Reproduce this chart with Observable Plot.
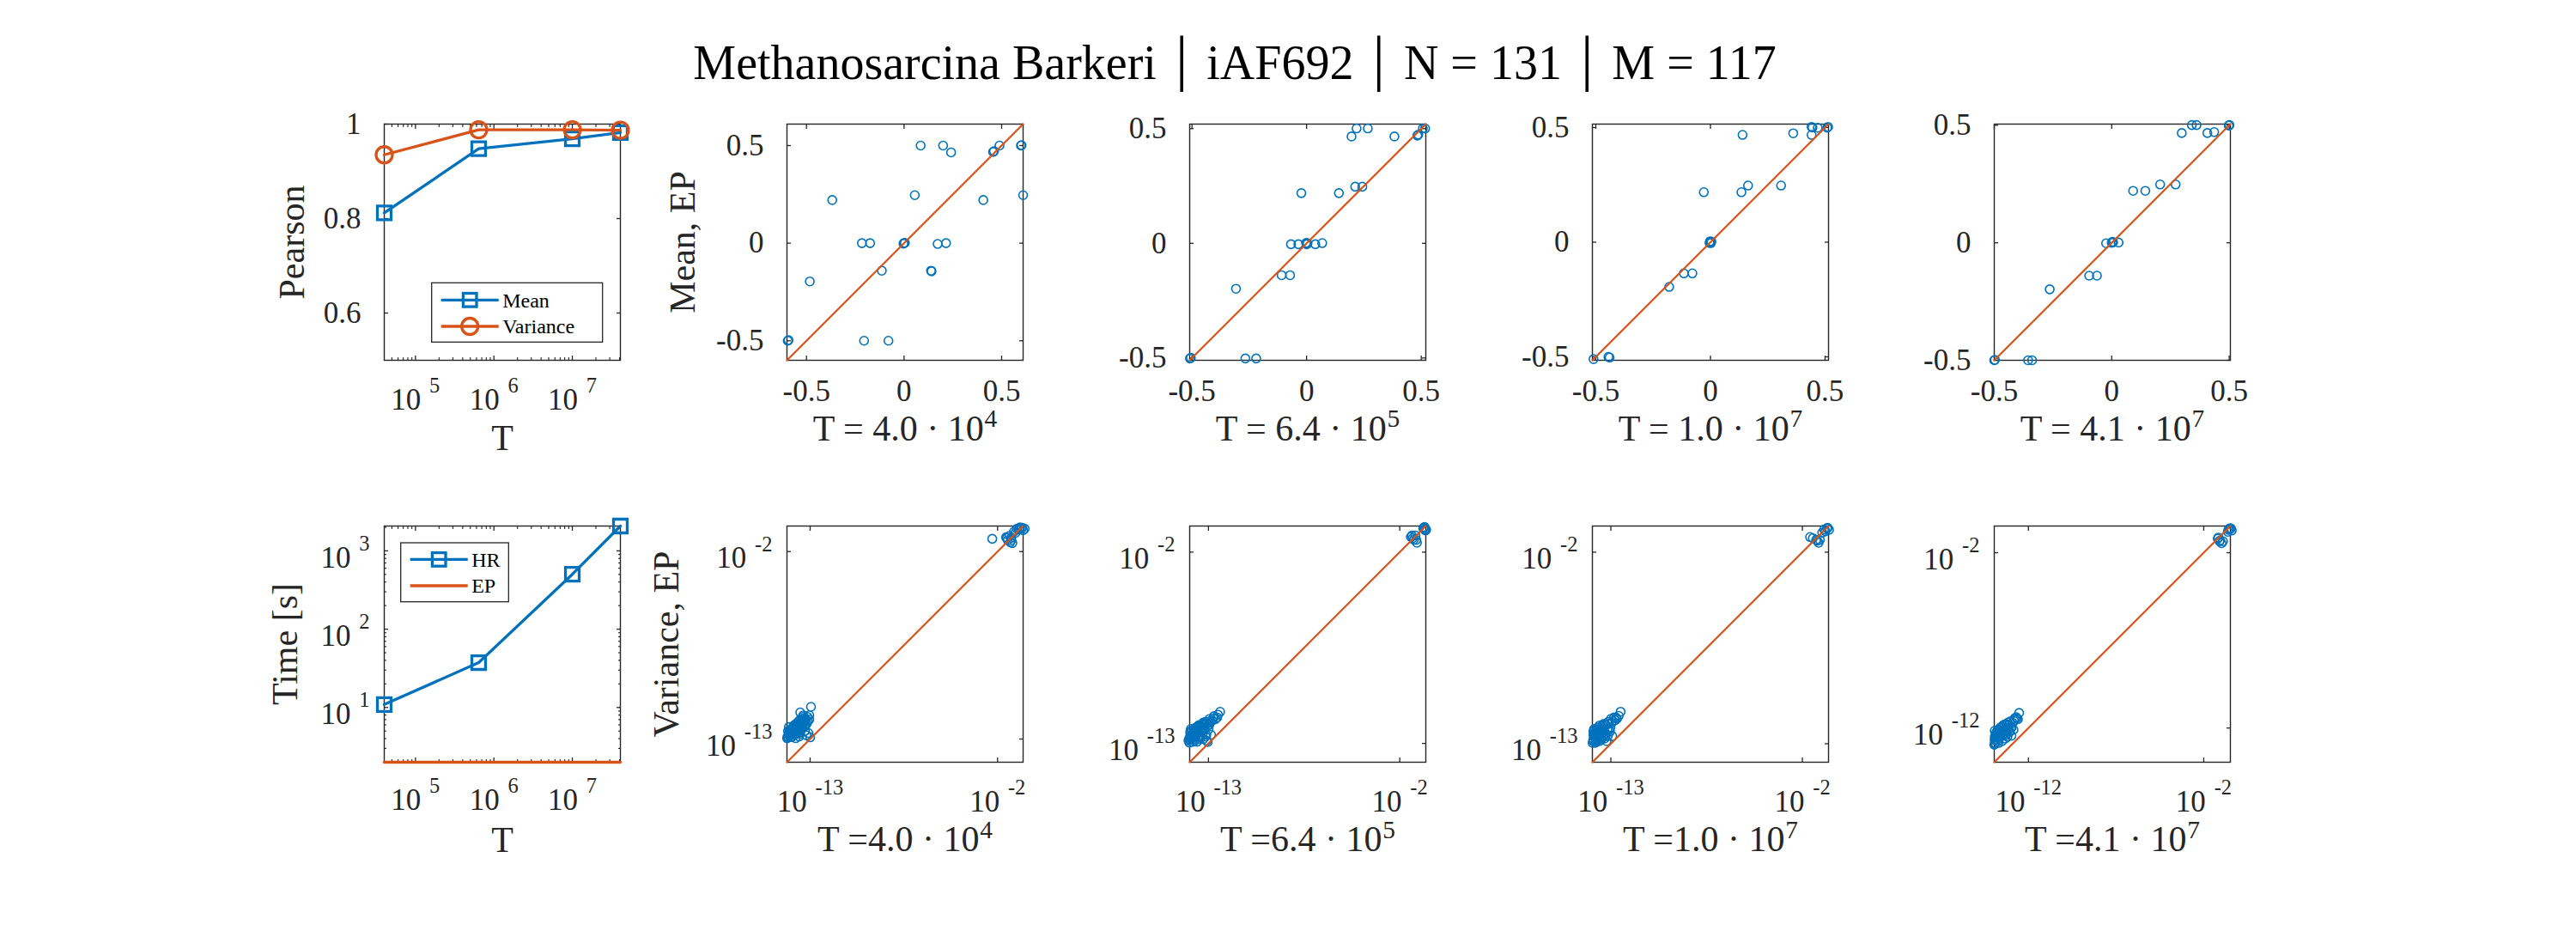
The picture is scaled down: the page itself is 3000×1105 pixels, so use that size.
<!DOCTYPE html>
<html>
<head>
<meta charset="utf-8">
<script src="https://cdn.jsdelivr.net/npm/d3@7"></script>
<script src="https://cdn.jsdelivr.net/npm/@observablehq/plot@0.6"></script>
<style>
  html, body { margin: 0; padding: 0; background: #fff; }
  #fig { position: relative; width: 3000px; height: 1105px; background: #fff; overflow: hidden; }
  #fig svg { position: absolute; overflow: visible; }
</style>
</head>
<body>
<div id="fig"></div>
<script>
// ---------- data ----------
const titleParts = ["Methanosarcina Barkeri", "iAF692", "N = 131", "M = 117"];

// sample counts T and their display labels
const T = [4.0e4, 6.4e5, 1.0e7, 4.1e7];
const Tlabels = ["4.0 · 10^4", "6.4 · 10^5", "1.0 · 10^7", "4.1 · 10^7"];

// Pearson correlation HR vs EP
const pearsonMean = [0.812, 0.948, 0.969, 0.982];
const pearsonVariance = [0.935, 0.988, 0.988, 0.987];

// run time in seconds
const timeHR = [10.9, 37.4, 502, 2075];
const timeEP = [2.0, 2.0, 2.0, 2.0];

// means: HR (x) against EP (y), one pair of arrays per T
const meanHR_1 = [-0.596, -0.592, -0.483, -0.368, -0.216, -0.174, -0.205, -0.080, -0.114, 0.000, 0.004, -0.003, 0.055, 0.085, 0.138, 0.141, 0.172, 0.215, 0.200, 0.241, 0.406, 0.456, 0.461, 0.489, 0.599, 0.602, 0.610];
const meanEP_1 = [-0.500, -0.497, -0.196, 0.221, 0.000, 0.000, -0.500, -0.500, -0.141, 0.000, 0.002, -0.002, 0.246, 0.500, -0.141, -0.144, -0.004, 0.000, 0.500, 0.465, 0.221, 0.467, 0.471, 0.500, 0.500, 0.502, 0.246];
const meanHR_2 = [-0.509, -0.505, -0.267, -0.220, -0.308, -0.109, -0.072, -0.068, -0.036, 0.000, 0.004, -0.002, 0.038, 0.068, -0.023, 0.141, 0.212, 0.243, 0.196, 0.218, 0.267, 0.383, 0.483, 0.487, 0.507, 0.517];
const meanEP_2 = [-0.502, -0.499, -0.502, -0.502, -0.198, -0.139, -0.139, -0.004, -0.004, -0.004, 0.000, 0.002, -0.004, 0.001, 0.219, 0.219, 0.247, 0.247, 0.466, 0.501, 0.501, 0.466, 0.470, 0.474, 0.501, 0.501];
const meanHR_3 = [-0.510, -0.445, -0.440, -0.180, -0.116, -0.079, 0.000, 0.004, -0.004, 0.002, -0.002, -0.029, 0.135, 0.164, 0.308, 0.140, 0.361, 0.441, 0.441, 0.445, 0.468, 0.513, 0.509];
const meanEP_3 = [-0.510, -0.500, -0.503, -0.195, -0.136, -0.136, 0.000, 0.003, -0.003, -0.004, 0.004, 0.218, 0.218, 0.247, 0.247, 0.468, 0.475, 0.468, 0.503, 0.500, 0.499, 0.503, 0.499];
const meanHR_4 = [-0.500, -0.497, -0.356, -0.339, -0.264, -0.096, -0.063, -0.024, 0.003, 0.000, 0.006, 0.029, 0.091, 0.143, 0.206, 0.272, 0.298, 0.341, 0.361, 0.407, 0.436, 0.501, 0.498];
const meanEP_4 = [-0.500, -0.498, -0.500, -0.500, -0.198, -0.140, -0.140, -0.002, 0.004, 0.000, 0.002, 0.001, 0.221, 0.221, 0.248, 0.248, 0.467, 0.501, 0.501, 0.467, 0.471, 0.501, 0.499];
const meanLims = [[-0.6, 0.61], [-0.51, 0.52], [-0.515, 0.515], [-0.5, 0.505]];
const meanTicks = [-0.5, 0, 0.5];

// variances (log10): HR (x) against EP (y), one pair of arrays per T
const logVarHR_1 = [-14.33, -14.25, -14.20, -14.10, -14.03, -13.95, -13.85, -13.80, -13.70, -13.67, -13.58, -13.50, -13.49, -13.40, -13.34, -13.30, -13.22, -13.16, -13.13, -13.05, -12.95, -14.30, -14.12, -13.85, -13.76, -14.00, -13.60, -13.30,
  -14.35, -14.28, -14.20, -14.15, -14.05, -13.98, -13.90, -13.82, -13.75, -13.70, -13.62, -13.55, -13.45, -13.42, -13.35, -13.25, -13.20, -13.10, -13.05, -13.00, -14.25, -13.90, -13.65,
  -14.22, -14.14, -14.06, -13.98, -13.92, -13.86, -13.78, -13.72, -13.64, -13.56, -13.52, -13.46, -13.38, -13.32, -13.26, -14.18, -14.08, -13.90, -13.60, -13.44,
  -2.31, -1.50, -1.31, -1.13, -1.04, -0.86, -0.68, -0.50, -0.41, -1.19, -1.40, -0.60, -0.75, -1.45, -1.20, -0.95, -0.55, -0.70, -1.25];
const logVarEP_1 = [-12.85, -12.62, -12.75, -12.50, -12.45, -12.20, -12.28, -12.60, -12.00, -12.11, -11.44, -11.95, -12.36, -11.61, -11.78, -12.53, -12.78, -11.70, -11.95, -11.60, -11.11, -12.53, -12.87, -12.95, -12.62, -12.30, -12.70, -12.20,
  -12.95, -12.90, -12.55, -12.65, -12.35, -12.55, -12.40, -12.10, -12.20, -12.45, -11.90, -12.05, -11.80, -12.15, -12.00, -11.85, -12.10, -12.65, -11.85, -12.90, -12.30, -12.75, -12.85,
  -12.82, -12.72, -12.60, -12.72, -12.50, -12.42, -12.35, -12.55, -12.25, -12.15, -12.45, -12.05, -11.95, -12.25, -11.90, -12.45, -12.88, -12.20, -12.60, -11.70,
  -1.25, -1.16, -1.08, -1.50, -0.83, -0.66, -0.58, -0.75, -0.66, -1.33, -1.33, -0.62, -0.70, -1.20, -1.20, -0.90, -0.60, -0.70, -1.45];
const logVarHR_2 = [-14.15, -14.05, -14.01, -13.92, -13.83, -13.74, -13.65, -13.57, -13.48, -13.30, -13.21, -13.12, -13.04, -12.95, -12.95, -12.77, -12.68, -12.50, -12.33, -14.01, -13.90, -13.70, -13.40, -13.55,
  -14.10, -14.05, -13.95, -13.85, -13.80, -13.70, -13.60, -13.50, -13.45, -13.35, -13.25, -13.15, -13.10, -13.00, -12.90, -12.85, -12.60, -12.45, -14.10, -13.65,
  -14.08, -14.00, -13.92, -13.86, -13.78, -13.72, -13.64, -13.58, -13.52, -13.44, -13.38, -13.30, -13.22, -13.16, -13.08, -13.00, -12.88, -12.72, -14.04, -13.80,
  -1.36, -1.19, -1.01, -1.10, -0.65, -0.48, -0.57, -1.25, -0.55, -1.30, -1.05, -0.60, -0.52];
const logVarEP_2 = [-12.83, -12.65, -12.59, -12.92, -12.34, -12.09, -12.17, -12.75, -12.01, -12.75, -11.84, -12.50, -12.92, -11.60, -11.93, -11.68, -11.43, -11.51, -11.18, -12.17, -12.45, -12.50, -12.30, -11.95,
  -12.70, -12.40, -12.25, -12.60, -12.85, -12.30, -12.00, -12.25, -12.60, -11.90, -12.20, -11.75, -12.85, -12.20, -11.80, -12.50, -11.60, -11.35, -12.95, -12.90,
  -12.80, -12.55, -12.45, -12.75, -12.20, -12.45, -12.05, -12.35, -12.60, -11.95, -12.30, -11.80, -12.10, -12.60, -11.85, -11.95, -11.70, -11.55, -12.30, -12.65,
  -1.13, -1.29, -1.46, -1.04, -0.63, -0.71, -0.55, -1.20, -0.68, -1.05, -1.30, -0.60, -0.75];
const logVarHR_3 = [-14.02, -13.95, -13.90, -13.85, -13.80, -13.70, -13.53, -13.35, -13.18, -13.00, -12.92, -12.82, -12.65, -12.44, -14.00, -13.60, -13.45, -13.10, -13.75,
  -14.05, -14.00, -13.95, -13.88, -13.80, -13.72, -13.65, -13.60, -13.50, -13.40, -13.30, -13.25, -13.15, -13.05, -12.95, -12.75, -12.55, -13.90, -13.45,
  -14.00, -13.94, -13.88, -13.82, -13.76, -13.70, -13.62, -13.56, -13.48, -13.42, -13.36, -13.28, -13.20, -13.12, -13.02, -12.88, -12.70, -13.98, -13.66, -13.30,
  -1.56, -1.21, -1.07, -0.86, -0.59, -0.47, -0.68, -1.15, -1.40, -1.00, -0.55, -0.75];
const logVarEP_3 = [-12.85, -12.60, -12.40, -12.90, -12.20, -12.06, -12.72, -11.90, -12.56, -11.57, -12.56, -11.49, -11.57, -11.16, -12.30, -12.40, -12.10, -12.20, -12.70,
  -12.95, -12.50, -12.15, -12.70, -12.50, -12.30, -11.95, -12.75, -12.20, -11.85, -12.40, -12.85, -11.75, -12.30, -11.80, -11.65, -11.40, -12.95, -12.60,
  -12.75, -12.55, -12.30, -12.80, -12.10, -12.60, -12.15, -12.45, -11.95, -12.30, -12.70, -11.95, -12.20, -11.85, -12.05, -11.70, -11.50, -12.20, -12.85, -12.55,
  -1.13, -1.29, -1.46, -0.88, -0.63, -0.72, -0.80, -1.35, -1.20, -1.30, -0.60, -0.70];
const logVarHR_4 = [-13.93, -13.90, -13.84, -13.75, -13.67, -13.49, -13.32, -13.23, -13.14, -13.05, -12.97, -12.79, -12.70, -12.53, -13.84, -13.60, -13.40, -13.00,
  -13.95, -13.92, -13.85, -13.80, -13.70, -13.62, -13.55, -13.45, -13.35, -13.28, -13.18, -13.10, -12.90, -12.85, -12.60, -13.90, -13.50,
  -13.90, -13.86, -13.80, -13.74, -13.68, -13.62, -13.56, -13.50, -13.42, -13.36, -13.30, -13.22, -13.14, -13.06, -12.95, -12.82, -12.66, -13.92, -13.70, -13.20,
  -1.16, -1.07, -0.98, -0.63, -0.55, -0.40, -0.50, -1.10, -1.20, -0.90, -0.60, -0.45];
const logVarEP_4 = [-12.68, -12.85, -12.44, -12.76, -12.11, -11.95, -12.60, -11.79, -12.03, -11.63, -12.44, -11.46, -11.38, -11.14, -12.28, -12.50, -12.20, -12.00,
  -12.95, -12.50, -12.65, -12.20, -12.45, -12.00, -12.30, -11.85, -12.30, -12.00, -11.70, -12.25, -11.70, -12.10, -11.50, -12.90, -12.75,
  -12.70, -12.35, -12.55, -12.10, -12.60, -12.25, -11.95, -12.45, -12.10, -11.80, -12.40, -12.00, -11.85, -12.20, -11.95, -11.60, -11.45, -12.15, -12.85, -12.50,
  -1.14, -1.30, -1.46, -0.81, -0.65, -0.73, -0.60, -1.35, -1.20, -1.35, -0.70, -0.62];
const logVarLims = [[-14.36, -0.5], [-14.08, -0.5], [-14.06, -0.5], [-13.95, -0.48]];
const logVarTicks = [[-13, -2], [-13, -2], [-13, -2], [-12, -2]];

// log-axis tick positions
const tMajor = [1e5, 1e6, 1e7];
const tMinor = [5e4, 6e4, 7e4, 8e4, 9e4, 2e5, 3e5, 4e5, 5e5, 6e5, 7e5, 8e5, 9e5, 2e6, 3e6, 4e6, 5e6, 6e6, 7e6, 8e6, 9e6, 2e7, 3e7, 4e7];
const timeMajor = [10, 100, 1000];
const timeMinor = [3, 4, 5, 6, 7, 8, 9, 20, 30, 40, 50, 60, 70, 80, 90, 200, 300, 400, 500, 600, 700, 800, 900, 2000];

// ---------- styling & layout ----------
const INK = "#262626", BLUE = "#0072BD", ORANGE = "#D95319";
const FONT = "'Liberation Serif', 'Times New Roman', serif";
const COLS = [447, 915.5, 1385, 1853.5, 2322];
const ROWS = [144, 612.3];
const SIDE = 275;
const M = {left: 150, right: 30, top: 30, bottom: 120};
const fig = document.getElementById("fig");

const linFmt = d => String(d);
const logFmt = d => `10^{${Math.round(Math.log10(d))}}`;
const blank = () => "";

// boxed axes with inward ticks on all four sides
function boxAxes({xTicks, yTicks, xMinor = [], yMinor = [], xFmt, yFmt, xPad, yPad, yDy = 0}) {
  const marks = [
    Plot.axisX({anchor: "bottom", ticks: xTicks, tickSize: 0, tickPadding: xPad, tickFormat: xFmt, label: null}),
    Plot.axisY({anchor: "left", ticks: yTicks, tickSize: 0, tickPadding: yPad, tickFormat: yFmt, label: null, dy: yDy})
  ];
  for (const anchor of ["bottom", "top"]) {
    marks.push(Plot.axisX({anchor, ticks: xTicks, tickSize: -5, tickFormat: blank, label: null, strokeWidth: 1.3}));
    if (xMinor.length) marks.push(Plot.axisX({anchor, ticks: xMinor, tickSize: -3, tickFormat: blank, label: null, strokeWidth: 1.1}));
  }
  for (const anchor of ["left", "right"]) {
    marks.push(Plot.axisY({anchor, ticks: yTicks, tickSize: -5, tickFormat: blank, label: null, strokeWidth: 1.3}));
    if (yMinor.length) marks.push(Plot.axisY({anchor, ticks: yMinor, tickSize: -3, tickFormat: blank, label: null, strokeWidth: 1.1}));
  }
  marks.push(Plot.frame({stroke: INK, strokeWidth: 1.4}));
  return marks;
}

const xLabel = (text, offset) =>
  Plot.text([text], {text: d => d, frameAnchor: "bottom", dy: offset, lineAnchor: "bottom", fontSize: 42, fill: INK});
const yLabel = (text, offset) =>
  Plot.text([text], {text: d => d, frameAnchor: "left", dx: -offset, rotate: -90, lineAnchor: "bottom", textAnchor: "middle", fontSize: 42, fill: INK});

function panel(col, row, {x, y, marks}) {
  const svg = Plot.plot({
    width: SIDE + M.left + M.right,
    height: SIDE + M.top + M.bottom,
    marginLeft: M.left, marginRight: M.right, marginTop: M.top, marginBottom: M.bottom,
    x, y,
    style: {fontFamily: FONT, fontSize: "35px", color: INK, background: "transparent", overflow: "visible"},
    marks
  });
  svg.style.left = `${COLS[col] - M.left}px`;
  svg.style.top = `${ROWS[row] - M.top}px`;
  fig.appendChild(svg);
  return svg;
}

// legend box drawn inside a panel, positioned relative to its frame
function addLegend(svg, box, rows) {
  const g = d3.select(svg).append("g")
    .attr("transform", `translate(${M.left + box.x},${M.top + box.y})`)
    .attr("font-family", FONT).attr("font-size", 24).attr("text-anchor", "start");
  g.append("rect").attr("width", box.w).attr("height", box.h)
    .attr("fill", "white").attr("stroke", INK).attr("stroke-width", 1.3);
  rows.forEach((r, i) => {
    const yy = box.rowY[i];
    g.append("line").attr("x1", 11).attr("x2", 78).attr("y1", yy).attr("y2", yy)
      .attr("stroke", r.color).attr("stroke-width", 3.3);
    if (r.symbol === "square") {
      g.append("rect").attr("x", 44.5 - 7.8).attr("y", yy - 7.8).attr("width", 15.6).attr("height", 15.6)
        .attr("fill", "none").attr("stroke", r.color).attr("stroke-width", 3.3);
    } else if (r.symbol === "circle") {
      g.append("circle").attr("cx", 44.5).attr("cy", yy).attr("r", 9.5)
        .attr("fill", "none").attr("stroke", r.color).attr("stroke-width", 3.3);
    }
    g.append("text").attr("x", 82.5).attr("y", yy).attr("dy", "0.35em")
      .attr("text-anchor", "start").attr("fill", "#000").text(r.label);
  });
}

// ---------- title ----------
const titleSvg = d3.create("svg").attr("width", 3000).attr("height", 130)
  .style("left", "0px").style("top", "0px");
const title = titleSvg.append("text")
  .attr("x", 1438).attr("y", 92).attr("text-anchor", "middle")
  .attr("font-family", FONT).attr("font-size", 56).attr("fill", "#000");
titleParts.forEach((part, i) => {
  if (i) title.append("tspan").attr("dx", 22).attr("font-size", 72).text("|");
  title.append("tspan").attr("dx", i ? 22 : 0).text(part);
});
fig.appendChild(titleSvg.node());

// ---------- Pearson vs T ----------
const pearsonRows = T.map((t, i) => ({T: t, mean: pearsonMean[i], variance: pearsonVariance[i]}));
const p1 = panel(0, 0, {
  x: {type: "log", domain: d3.extent(T)},
  y: {type: "linear", domain: [0.5, 1]},
  marks: [
    ...boxAxes({xTicks: tMajor, xMinor: tMinor, yTicks: [0.6, 0.8, 1], xFmt: logFmt, yFmt: linFmt, xPad: 33, yPad: 27}),
    Plot.line(pearsonRows, {x: "T", y: "mean", stroke: BLUE, strokeWidth: 3.3}),
    Plot.dot(pearsonRows, {x: "T", y: "mean", symbol: "square", r: 9, stroke: BLUE, strokeWidth: 3.3, fill: "none"}),
    Plot.line(pearsonRows, {x: "T", y: "variance", stroke: ORANGE, strokeWidth: 3.3}),
    Plot.dot(pearsonRows, {x: "T", y: "variance", symbol: "circle", r: 9.5, stroke: ORANGE, strokeWidth: 3.3, fill: "none"}),
    xLabel("T", 104),
    yLabel("Pearson", 94)
  ]
});
addLegend(p1, {x: 55.7, y: 185.3, w: 199, h: 69, rowY: [20, 50.7]}, [
  {label: "Mean", color: BLUE, symbol: "square"},
  {label: "Variance", color: ORANGE, symbol: "circle"}
]);

// ---------- run time vs T ----------
const timeRows = T.map((t, i) => ({T: t, hr: timeHR[i], ep: timeEP[i]}));
const p6 = panel(0, 1, {
  x: {type: "log", domain: d3.extent(T)},
  y: {type: "log", domain: d3.extent([...timeHR, ...timeEP])},
  marks: [
    ...boxAxes({xTicks: tMajor, xMinor: tMinor, yTicks: timeMajor, yMinor: timeMinor, xFmt: logFmt, yFmt: logFmt, xPad: 31, yPad: 17, yDy: 8}),
    Plot.line(timeRows, {x: "T", y: "hr", stroke: BLUE, strokeWidth: 3.3}),
    Plot.dot(timeRows, {x: "T", y: "hr", symbol: "square", r: 9, stroke: BLUE, strokeWidth: 3.3, fill: "none"}),
    Plot.line(timeRows, {x: "T", y: "ep", stroke: ORANGE, strokeWidth: 3.3}),
    xLabel("T", 104),
    yLabel("Time [s]", 102)
  ]
});
addLegend(p6, {x: 19.7, y: 20, w: 125.6, h: 68.7, rowY: [19.4, 50]}, [
  {label: "HR", color: BLUE, symbol: "square"},
  {label: "EP", color: ORANGE, symbol: null}
]);

// ---------- means: HR vs EP ----------
const meanSets = [[meanHR_1, meanEP_1], [meanHR_2, meanEP_2], [meanHR_3, meanEP_3], [meanHR_4, meanEP_4]];
meanSets.forEach(([hr, ep], i) => {
  const [lo, hi] = meanLims[i];
  const pts = hr.map((h, j) => ({hr: h, ep: ep[j]}));
  panel(i + 1, 0, {
    x: {type: "linear", domain: [lo, hi]},
    y: {type: "linear", domain: [lo, hi]},
    marks: [
      ...boxAxes({xTicks: meanTicks, yTicks: meanTicks, xFmt: linFmt, yFmt: linFmt, xPad: 23, yPad: 27}),
      Plot.dot(pts, {x: "hr", y: "ep", r: 5, stroke: BLUE, strokeWidth: 1.6, fill: "none"}),
      Plot.line([[lo, lo], [hi, hi]], {stroke: ORANGE, strokeWidth: 2.2}),
      xLabel(`T = ${Tlabels[i]}`, 93),
      i === 0 ? yLabel("Mean, EP", 108) : null
    ]
  });
});

// ---------- variances: HR vs EP (log-log) ----------
const varSets = [[logVarHR_1, logVarEP_1], [logVarHR_2, logVarEP_2], [logVarHR_3, logVarEP_3], [logVarHR_4, logVarEP_4]];
varSets.forEach(([hr, ep], i) => {
  const [lo, hi] = logVarLims[i].map(e => 10 ** e);
  const ticks = logVarTicks[i].map(e => 10 ** e);
  const pts = hr.map((h, j) => ({hr: 10 ** h, ep: 10 ** ep[j]}));
  panel(i + 1, 1, {
    x: {type: "log", domain: [lo, hi]},
    y: {type: "log", domain: [lo, hi]},
    marks: [
      ...boxAxes({xTicks: ticks, yTicks: ticks, xFmt: logFmt, yFmt: logFmt, xPad: 33, yPad: 17, yDy: 8}),
      Plot.dot(pts, {x: "hr", y: "ep", r: 5, stroke: BLUE, strokeWidth: 1.6, fill: "none"}),
      Plot.line([[lo, lo], [hi, hi]], {stroke: ORANGE, strokeWidth: 2.2}),
      xLabel(`T =${Tlabels[i]}`, 103.5),
      i === 0 ? yLabel("Variance, EP", 127) : null
    ]
  });
});

// ---------- superscripts: "base^{exp}" (tick labels) and "base^exp" (axis labels) ----------
const SVGNS = "http://www.w3.org/2000/svg";
function setSup(t, base, exp, scale, gap, rise) {
  const fs = parseFloat(getComputedStyle(t).fontSize);
  t.textContent = "";
  const b = document.createElementNS(SVGNS, "tspan");
  b.textContent = base;
  t.appendChild(b);
  const e = document.createElementNS(SVGNS, "tspan");
  e.textContent = exp;
  e.setAttribute("font-size", (fs * scale).toFixed(2));
  e.setAttribute("dx", (fs * gap).toFixed(2));
  e.setAttribute("dy", (-fs * rise).toFixed(2));
  t.appendChild(e);
}
fig.querySelectorAll("text").forEach(t => {
  if (t.children.length) return;
  const s = t.textContent;
  let m = s.match(/^(.*)\^\{(.+)\}$/);
  if (m) { setSup(t, m[1], m[2], 0.7, 0.28, 0.57); return; }
  m = s.match(/^(.*)\^(.+)$/);
  if (m) setSup(t, m[1], m[2], 0.7, 0.02, 0.36);
});
</script>
</body>
</html>
